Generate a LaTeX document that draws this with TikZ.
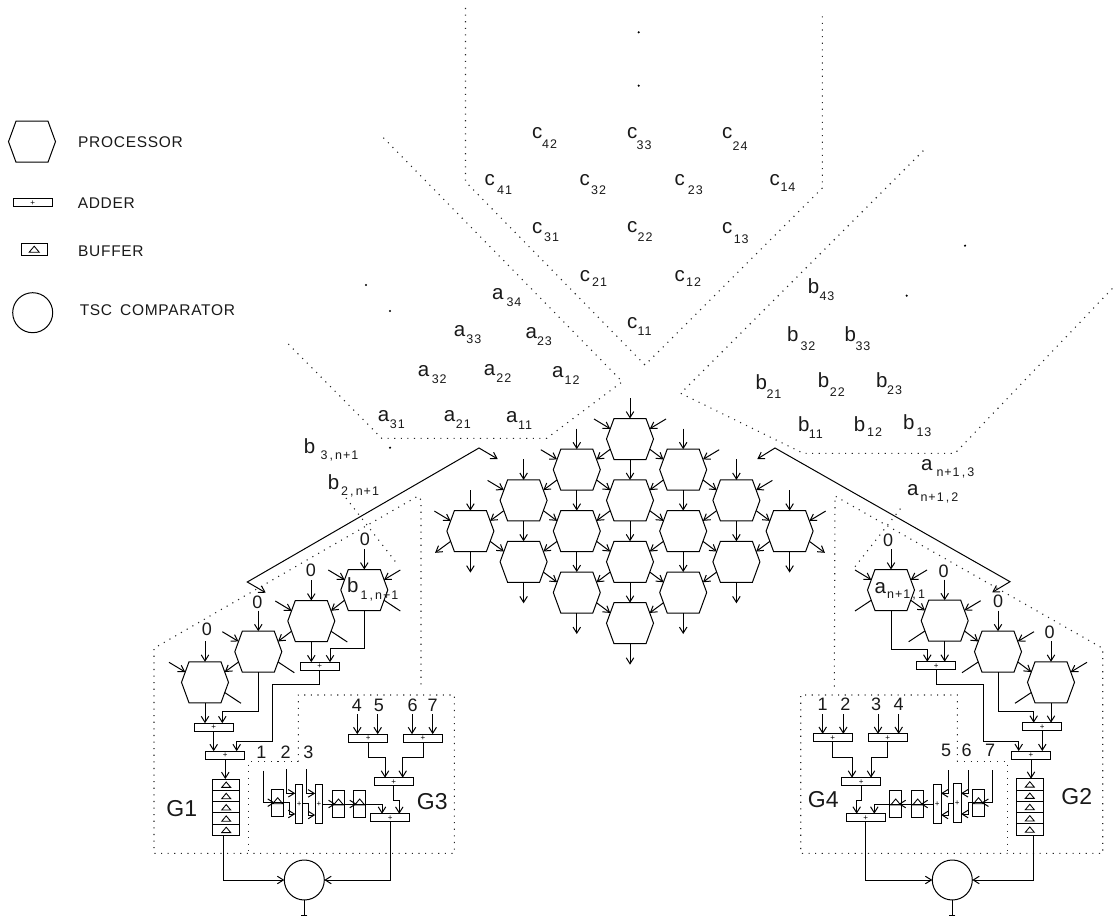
\documentclass[tikz,border=0pt]{standalone}
\usepackage{fontspec}
\setmainfont{Liberation Sans}
\usetikzlibrary{arrows.meta,calc}
\makeatletter
\pgfdeclareshape{hexa}{
  \inheritsavedanchors[from=rectangle]
  \inheritanchor[from=rectangle]{center}
  \inheritanchor[from=rectangle]{north}
  \inheritanchor[from=rectangle]{south}
  \inheritanchor[from=rectangle]{west}
  \inheritanchor[from=rectangle]{east}
  \inheritanchorborder[from=rectangle]
  \anchor{ul}{\pgfpointadd{\pgfpointlineattime{0.5}{\northeast}{\southwest}}{\pgfpoint{-19.75pt}{10.25pt}}}
  \anchor{ur}{\pgfpointadd{\pgfpointlineattime{0.5}{\northeast}{\southwest}}{\pgfpoint{19.75pt}{10.25pt}}}
  \anchor{ll}{\pgfpointadd{\pgfpointlineattime{0.5}{\northeast}{\southwest}}{\pgfpoint{-19.75pt}{-10.25pt}}}
  \anchor{lr}{\pgfpointadd{\pgfpointlineattime{0.5}{\northeast}{\southwest}}{\pgfpoint{19.75pt}{-10.25pt}}}
  \backgroundpath{
    \def\hexc{\pgfpointlineattime{0.5}{\northeast}{\southwest}}
    \pgfpathmoveto{\pgfpointadd{\hexc}{\pgfpoint{-23.5pt}{0pt}}}
    \pgfpathlineto{\pgfpointadd{\hexc}{\pgfpoint{-16pt}{20.5pt}}}
    \pgfpathlineto{\pgfpointadd{\hexc}{\pgfpoint{16pt}{20.5pt}}}
    \pgfpathlineto{\pgfpointadd{\hexc}{\pgfpoint{23.5pt}{0pt}}}
    \pgfpathlineto{\pgfpointadd{\hexc}{\pgfpoint{16pt}{-20.5pt}}}
    \pgfpathlineto{\pgfpointadd{\hexc}{\pgfpoint{-16pt}{-20.5pt}}}
    \pgfpathclose
  }
}
\makeatother
\newfontfamily\legfont[LetterSpace=4.5]{Liberation Sans}
\newfontfamily\subfont[LetterSpace=8]{Liberation Sans}
\newcommand{\sublab}[7]{\node[anchor=base west,inner sep=0pt,text=black!90] (#1) at (#2,#3) {\makebox[#6pt][l]{\fontsize{20.5}{20.5}\selectfont #4}\raisebox{-#7pt}{\subfont\fontsize{12.5}{12.5}\selectfont #5}};}
\newcommand{\trig}[1]{\draw[thin line] ($(#1)+(-5,1)$) -- ($(#1)+(5,1)$) -- ($(#1)+(0,-5)$) -- cycle;}
\tikzset{
  hexnode/.style={shape=hexa,draw,minimum width=47pt,minimum height=41pt,inner sep=0pt,outer sep=0pt},
  adder/.style={draw,rectangle,minimum width=39pt,minimum height=8pt,inner sep=0pt,outer sep=0pt,font=\fontsize{8}{8}\selectfont},
  vadder/.style={draw,rectangle,minimum width=7.7pt,minimum height=39.3pt,inner sep=0pt,outer sep=0pt,font=\fontsize{8}{8}\selectfont},
  bufcell/.style={draw,rectangle,minimum width=27pt,minimum height=11.3pt,inner sep=0pt,outer sep=0pt},
  vbuf/.style={draw,rectangle,minimum width=12pt,minimum height=26.7pt,inner sep=0pt,outer sep=0pt},
  cmpr/.style={draw,circle,minimum size=40pt,inner sep=0pt,outer sep=0pt},
  bignum/.style={inner sep=0pt,text=black!90,font=\fontsize{18}{18}\selectfont},
  glabel/.style={inner sep=0pt,text=black!90,font=\fontsize{23}{23}\selectfont},
  legtext/.style={anchor=base west,inner sep=0pt,text=black!90,font=\legfont\fontsize{15.5}{15.5}\selectfont},
  dotline/.style={line width=1.1pt,black!85,dash pattern=on 1.1pt off 5.5pt},
  thin line/.style={line width=0.85pt},
}
\begin{document}
\begin{tikzpicture}[x=1pt,y=-1pt,line width=1pt,>={Straight Barb[length=6pt,width=7.5pt]}]
\useasboundingbox (0,0) rectangle (1114,917);

% legend
\node[hexnode] (lgH) at (32,141.7) {};
\node[adder] (lgA) at (32.8,203) {+};
\node[draw,rectangle,minimum width=26.3pt,minimum height=11.7pt,inner sep=0pt] (lgB) at (34.2,249.2) {};
\draw[thin line] ($(lgB)+(-5,3)$) -- ($(lgB)+(5,3)$) -- ($(lgB)+(0,-3)$) -- cycle;
\node[cmpr] (lgC) at (32.7,312.7) {};
\node[legtext] (tP) at (77.7,147.7) {PROCESSOR};
\node[legtext] (tA) at (77.3,208.3) {ADDER};
\node[legtext] (tB) at (77.7,256.7) {BUFFER};
\node[legtext] (tT) at (79.3,316) {TSC\hspace{3pt} COMPARATOR};

% dotted windows
\draw[dotline] (288.3,344) -- (381.7,438.3) -- (546.7,438.3) -- (622.3,381.7) -- (381.7,136);
\draw[dotline] (465.5,8) -- (465.5,181.7) -- (645,365) -- (822.3,188) -- (822.3,12);
\draw[dotline] (923.3,150.7) -- (680.7,393.3) -- (803.3,453.3) -- (955,453.3) -- (1114,286.7);
\draw[dotline] (298.3,761.7) -- (298.3,695) -- (454.3,695) -- (454.3,853.3) -- (154,853.3) -- (154,648.3) -- (418,496) -- (421,500) -- (421,688);
\draw[dotline] (298.3,761.7) -- (248.3,761.7) -- (248.3,853.3);
\draw[dotline] (346,498) -- (398,565);
\draw[dotline] (957.3,761.7) -- (957.3,695) -- (800.7,695) -- (800.7,853.3) -- (1102.7,853.3) -- (1102.7,648.3) -- (835,496) -- (834.3,688);
\draw[dotline] (957.3,761.7) -- (1007.3,761.7) -- (1007.3,853.3);
\draw[dotline] (855,566.7) -- (903.3,505);

% ellipsis dots
\foreach \dx/\dy in {638.7/32.3,638.7/85.7,366/285,390/311,390/447.7,965/245.7,906.7/295.7}
  \fill (\dx,\dy) circle[radius=1.2];

% c labels
\sublab{c42}{531.7}{138.3}{c}{42}{10}{10}
\sublab{c33}{626.7}{138.3}{c}{33}{9.5}{11.5}
\sublab{c24}{721.7}{138.3}{c}{24}{10.5}{12.5}
\sublab{c41}{484}{186}{c}{41}{12.7}{9}
\sublab{c32}{579}{186}{c}{32}{11.7}{9}
\sublab{c23}{674}{186}{c}{23}{13.3}{9}
\sublab{c14}{769}{186}{c}{14}{11}{5.7}
\sublab{c31}{531.7}{233.3}{c}{31}{12}{8.4}
\sublab{c22}{626.7}{233}{c}{22}{10.5}{8.7}
\sublab{c13}{721.7}{234}{c}{13}{11.6}{9.3}
\sublab{c21}{579.3}{281.7}{c}{21}{12.4}{5}
\sublab{c12}{674}{281.7}{c}{12}{11.7}{5.3}
\sublab{c11}{626.7}{328.3}{c}{11}{10.5}{7.5}
% a labels
\sublab{a34}{491.7}{300}{a}{34}{14.3}{6.7}
\sublab{a33}{453.3}{336.7}{a}{33}{12.5}{7}
\sublab{a23}{525}{338.3}{a}{23}{11.5}{7}
\sublab{a32}{417.3}{376.7}{a}{32}{14}{7}
\sublab{a22}{483.3}{375}{a}{22}{12.5}{7}
\sublab{a12}{551.7}{377.3}{a}{12}{12.5}{7}
\sublab{a31}{377.3}{421}{a}{31}{12}{7}
\sublab{a21}{443.3}{421.7}{a}{21}{12}{7}
\sublab{a11}{505.7}{422.3}{a}{11}{12}{7}
% b labels
\sublab{b43}{807.3}{293.3}{b}{43}{11.7}{7.4}
\sublab{b32}{786.7}{341.7}{b}{32}{13.3}{8.3}
\sublab{b33}{844}{341.7}{b}{33}{11}{8.3}
\sublab{b21}{755}{389.3}{b}{21}{11}{9}
\sublab{b22}{817.3}{387.7}{b}{22}{12}{9}
\sublab{b23}{875.7}{387.3}{b}{23}{11}{6.7}
\sublab{b11}{797.7}{431}{b}{11}{10.6}{7.3}
\sublab{b12}{853.3}{431}{b}{12}{13.4}{5.7}
\sublab{b13}{902.7}{429}{b}{13}{13.3}{7.7}
% boundary labels
\sublab{b3n}{303.3}{453.3}{b}{3\,,\,n+1}{16.7}{6}
\sublab{b2n}{327.3}{489.3}{b}{2\,,\,n+1}{13.4}{5.7}
\sublab{an3}{920.7}{470.7}{a}{n+1\,,\,3}{15.3}{6}
\sublab{an2}{906.7}{495.7}{a}{n+1\,,\,2}{13.3}{5.3}

% main array
\foreach \i in {0,...,3}\foreach \j in {0,...,3}{
  \pgfmathsetmacro\xx{630+(\j-\i)*53.2}
  \pgfmathsetmacro\yy{439+(\i+\j)*30.7}
  \node[hexnode] (m\i\j) at (\xx,\yy) {};
}
\foreach \i in {0,...,3}\foreach \j in {0,...,3}{
  \pgfmathtruncatemacro\ii{\i+1}
  \pgfmathtruncatemacro\jj{\j+1}
  \ifnum\i<3 \draw[->] (m\i\j.ll) -- (m\ii\j.ur); \fi
  \ifnum\j<3 \draw[->] (m\i\j.lr) -- (m\i\jj.ul); \fi
  \pgfmathtruncatemacro\inner{(\i<3)&&(\j<3)}
  \ifnum\inner=1 \draw[->] (m\i\j.south) -- (m\ii\jj.north);
  \else \draw[->] (m\i\j.south) -- ++(0,21); \fi
  \ifnum\i=0 \draw[->] ($(m\i\j)+(36,-20)$) -- (m\i\j.ur); \draw[->] ($(m\i\j)+(0,-41)$) -- (m\i\j.north); \fi
  \ifnum\j=0 \draw[->] ($(m\i\j)+(-36,-20)$) -- (m\i\j.ul); \ifnum\i>0 \draw[->] ($(m\i\j)+(0,-41)$) -- (m\i\j.north); \fi \fi
}
\draw[->] (m30.ll) -- ($(m30)+(-35.3,21.7)$);
\draw[->] (m03.lr) -- ($(m03)+(35.3,21.7)$);

% big bent arrows
\coordinate (bl1) at (497.7,459); \coordinate (bl2) at (479,448); \coordinate (bl3) at (247.3,582); \coordinate (bl4) at (265.7,592.7);
\draw[<->] (bl1) -- (bl2) -- (bl3) -- (bl4);
\coordinate (br1) at (757.3,459); \coordinate (br2) at (775,448); \coordinate (br3) at (1010,581.7); \coordinate (br4) at (992.3,592.3);
\draw[<->] (br1) -- (br2) -- (br3) -- (br4);

% left bottom array
\node[hexnode] (hl1) at (205,682.3) {};
\node[hexnode] (hl2) at (258.3,651.7) {};
\node[hexnode] (hl3) at (311.3,621) {};
\node[hexnode] (hl4) at (364.3,590) {};
\foreach \n in {hl1,hl2,hl3,hl4}{
  \draw[->] ($(\n)+(0,-41)$) -- (\n.north);
  \draw[->] ($(\n)+(-36,-20)$) -- (\n.ul);
  \draw (\n.lr) -- ($(\n)+(36,21)$);
}
\draw[->] ($(hl4)+(36,-20)$) -- (hl4.ur);
\draw[->] (hl4.ll) -- (hl3.ur);
\draw[->] (hl3.ll) -- (hl2.ur);
\draw[->] (hl2.ll) -- (hl1.ur);
\node[bignum] (z1) at (207,629) {0};
\node[bignum] (z2) at (257.3,602) {0};
\node[bignum] (z3) at (311,570.3) {0};
\node[bignum] (z4) at (365,539) {0};
\sublab{b1n}{346.7}{592.7}{b}{1\,,\,n+1}{13.3}{6.6}

\node[adder] (A1) at (319.8,666.2) {+};
\node[adder] (A2) at (213.7,727.2) {+};
\node[adder] (A3) at (225.3,755.2) {+};
\draw[->] (hl3.south) -- (hl3.south |- A1.north);
\draw[->] (hl4.south) -- ++(0,38) -| ([xshift=10.2pt]A1.north);
\draw[->] (hl1.south) -- (hl1.south |- A2.north);
\draw[->] (hl2.south) -- ++(0,39) -| ([xshift=8.6pt]A2.north);
\draw[->] (A2.south) -- (A2.south |- A3.north);
\draw[->] (A1.south) -- ++(0,14) -- ++(-47.5,0) -- ++(0,57.5) -| ([xshift=11.4pt]A3.north);
\foreach \k/\yy in {1/784.7,2/796,3/807.3,4/818.6,5/829.9}{
  \node[bufcell] (Sa\k) at (226.2,\yy) {};
  \draw[thin line] ($(Sa\k)+(-4.5,2.7)$) -- ($(Sa\k)+(4.5,2.7)$) -- ($(Sa\k)+(0,-2.7)$) -- cycle;
}
\draw[->] (A3.south) -- (A3.south |- Sa1.north);

\node[cmpr] (C1) at (304.3,880) {};
\draw[-{Bar[width=6pt]}] (C1.south) -- ++(0,15.5);
\draw[->] ([xshift=-3pt]Sa5.south) |- (C1.west);
\node[glabel] (G1) at (181.7,809) {G1};

% G3 group
\node[adder] (A45) at (368.2,738.2) {+};
\node[adder] (A67) at (423,738.2) {+};
\node[adder] (AU) at (393.8,781.7) {+};
\node[adder] (AF) at (390.2,817.8) {+};
\node[bignum] (n4) at (357,705) {4};
\node[bignum] (n5) at (379,705) {5};
\node[bignum] (n6) at (412.7,705) {6};
\node[bignum] (n7) at (432.7,705) {7};
\node[bignum] (n1) at (261.3,752.3) {1};
\node[bignum] (n2) at (285.7,752.3) {2};
\node[bignum] (n3) at (308.3,752.3) {3};
\coordinate (i4) at (357.3,714); \coordinate (i5) at (377.7,714);
\coordinate (i6) at (412,714); \coordinate (i7) at (432.7,714);
\draw[->] (i4) -- (i4 |- A45.north);
\draw[->] (i5) -- (i5 |- A45.north);
\draw[->] (i6) -- (i6 |- A67.north);
\draw[->] (i7) -- (i7 |- A67.north);
\draw[->] (A45.south) -- ++(0,15) -| ([xshift=-8.8pt]AU.north);
\draw[->] (A67.south) -- ++(0,15) -| ([xshift=8.9pt]AU.north);
\draw[->] (AU.south) -- ++(0,14.5) -| ([xshift=9.1pt]AF.north);
\node[vbuf] (B1) at (277.7,802.7) {};
\node[vadder] (V1) at (299.1,803.7) {+};
\node[vadder] (V2) at (319,804) {+};
\node[vbuf] (B2) at (338.5,804) {};
\node[vbuf] (B3) at (359.7,804) {};
\foreach \b in {B1,B2,B3}{\trig{\b}}
\coordinate (c1) at (263,770.7); \coordinate (c2) at (286.7,769.3); \coordinate (c3) at (306.7,769.3);
\draw[->] (c1) |- ([xshift=3pt]B1.west);
\draw (B1.west) -- (B1.east);
\draw[->] (c2) |- ([yshift=10.4pt]V1.west);
\draw[->] (B1.east) -- ++(6,0) |- ([yshift=-10.3pt]V1.west);
\draw[->] (c3) |- ([yshift=10.6pt]V2.west);
\draw[->] (V1.east) -- ++(5.7,0) |- ([yshift=-11pt]V2.west);
\draw[->] (V2.east) -- ([xshift=3pt]B2.west);
\draw (B2.west) -- (B2.east);
\draw[->] (B2.east) -- ([xshift=3pt]B3.west);
\draw (B3.west) -- (B3.east);
\draw[->] (B3.east) -| ([xshift=-8.2pt]AF.north);
\draw[->] (AF.south) |- (C1.east);
\node[glabel] (G3) at (432.3,801.7) {G3};

% right bottom array
\node[hexnode] (hr1) at (891,590) {};
\node[hexnode] (hr2) at (944.7,620.7) {};
\node[hexnode] (hr3) at (998,651.7) {};
\node[hexnode] (hr4) at (1051,682.3) {};
\foreach \n in {hr1,hr2,hr3,hr4}{
  \draw[->] ($(\n)+(0,-41)$) -- (\n.north);
  \draw[->] ($(\n)+(36,-20)$) -- (\n.ur);
  \draw (\n.ll) -- ($(\n)+(-36,21)$);
}
\draw[->] ($(hr1)+(-36,-20)$) -- (hr1.ul);
\draw[->] (hr1.lr) -- (hr2.ul);
\draw[->] (hr2.lr) -- (hr3.ul);
\draw[->] (hr3.lr) -- (hr4.ul);
\node[bignum] (y1) at (888,540) {0};
\node[bignum] (y2) at (943.7,571.7) {0};
\node[bignum] (y3) at (998,601.7) {0};
\node[bignum] (y4) at (1049.7,632.3) {0};
\sublab{an1}{874}{593.3}{a}{n+1\,,\,1}{12.7}{5}

\node[adder] (R1) at (936.3,665.7) {+};
\node[adder] (R2) at (1042.3,726.7) {+};
\node[adder] (R3) at (1031,755) {+};
\draw[->] (hr2.south) -- (hr2.south |- R1.north);
\draw[->] (hr1.south) -- ++(0,38.5) -| ([xshift=-9pt]R1.north);
\draw[->] (hr4.south) -- (hr4.south |- R2.north);
\draw[->] (hr3.south) -- ++(0,39) -| ([xshift=-8.6pt]R2.north);
\draw[->] (R2.south) -- (R2.south |- R3.north);
\draw[->] (R1.south) -- ++(0,14.3) -- ++(47.4,0) -- ++(0,57.7) -| ([xshift=-12.3pt]R3.north);
\foreach \k/\yy in {1/784.4,2/795.7,3/807,4/818.3,5/829.6}{
  \node[bufcell] (Sb\k) at (1029.8,\yy) {};
  \draw[thin line] ($(Sb\k)+(-4.5,2.7)$) -- ($(Sb\k)+(4.5,2.7)$) -- ($(Sb\k)+(0,-2.7)$) -- cycle;
}
\draw[->] (R3.south) -- (R3.south |- Sb1.north);
\node[cmpr] (C2) at (952.3,880) {};
\draw[-{Bar[width=6pt]}] (C2.south) -- ++(0,15.5);
\draw[->] ([xshift=3.2pt]Sb5.south) |- (C2.east);
\node[glabel] (G2) at (1076.7,797) {G2};

% G4 group
\node[adder] (A12) at (832.7,737.9) {+};
\node[adder] (A34) at (887.8,737.9) {+};
\node[adder] (UU) at (861.2,781.7) {+};
\node[adder] (FF) at (865.7,817.7) {+};
\node[bignum] (m1) at (822.7,704.7) {1};
\node[bignum] (m2) at (845.3,704.7) {2};
\node[bignum] (m3) at (876,704.7) {3};
\node[bignum] (m4) at (898.7,704.7) {4};
\node[bignum] (m5) at (946,750) {5};
\node[bignum] (m6) at (966.7,750) {6};
\node[bignum] (m7) at (990,750) {7};
\coordinate (j1) at (822.7,714); \coordinate (j2) at (843.3,714);
\coordinate (j3) at (878,714); \coordinate (j4) at (898.7,714);
\draw[->] (j1) -- (j1 |- A12.north);
\draw[->] (j2) -- (j2 |- A12.north);
\draw[->] (j3) -- (j3 |- A34.north);
\draw[->] (j4) -- (j4 |- A34.north);
\draw[->] (A12.south) -- ++(0,15.5) -| ([xshift=-9.2pt]UU.north);
\draw[->] (A34.south) -- ++(0,15.5) -| ([xshift=9.8pt]UU.north);
\draw[->] (UU.south) -- ++(0,14.5) -| ([xshift=-9pt]FF.north);
\node[vbuf] (B7) at (978.5,802.7) {};
\node[vadder] (V6) at (957.2,803.3) {+};
\node[vadder] (V5) at (937.2,804) {+};
\node[vbuf] (B6) at (917.7,804) {};
\node[vbuf] (B5) at (895.7,804) {};
\foreach \b in {B7,B6,B5}{\trig{\b}}
\coordinate (d7) at (992.7,770); \coordinate (d6) at (968.3,770); \coordinate (d5) at (948.7,770);
\draw[->] (d7) |- ([xshift=-3pt]B7.east);
\draw (B7.east) -- (B7.west);
\draw[->] (d6) |- ([yshift=10pt]V6.east);
\draw[->] (B7.west) -- ++(-4.3,0) |- ([yshift=-10.7pt]V6.east);
\draw[->] (d5) |- ([yshift=10.7pt]V5.east);
\draw[->] (V6.west) -- ++(-5,0) |- ([yshift=-11pt]V5.east);
\draw[->] (V5.west) -- ([xshift=-3pt]B6.east);
\draw (B6.east) -- (B6.west);
\draw[->] (B6.west) -- ([xshift=-3pt]B5.east);
\draw (B5.east) -- (B5.west);
\draw[->] (B5.west) -| ([xshift=8.6pt]FF.north);
\draw[->] (FF.south) |- (C2.west);
\node[glabel] (G4) at (823.3,800) {G4};
\end{tikzpicture}
\end{document}
